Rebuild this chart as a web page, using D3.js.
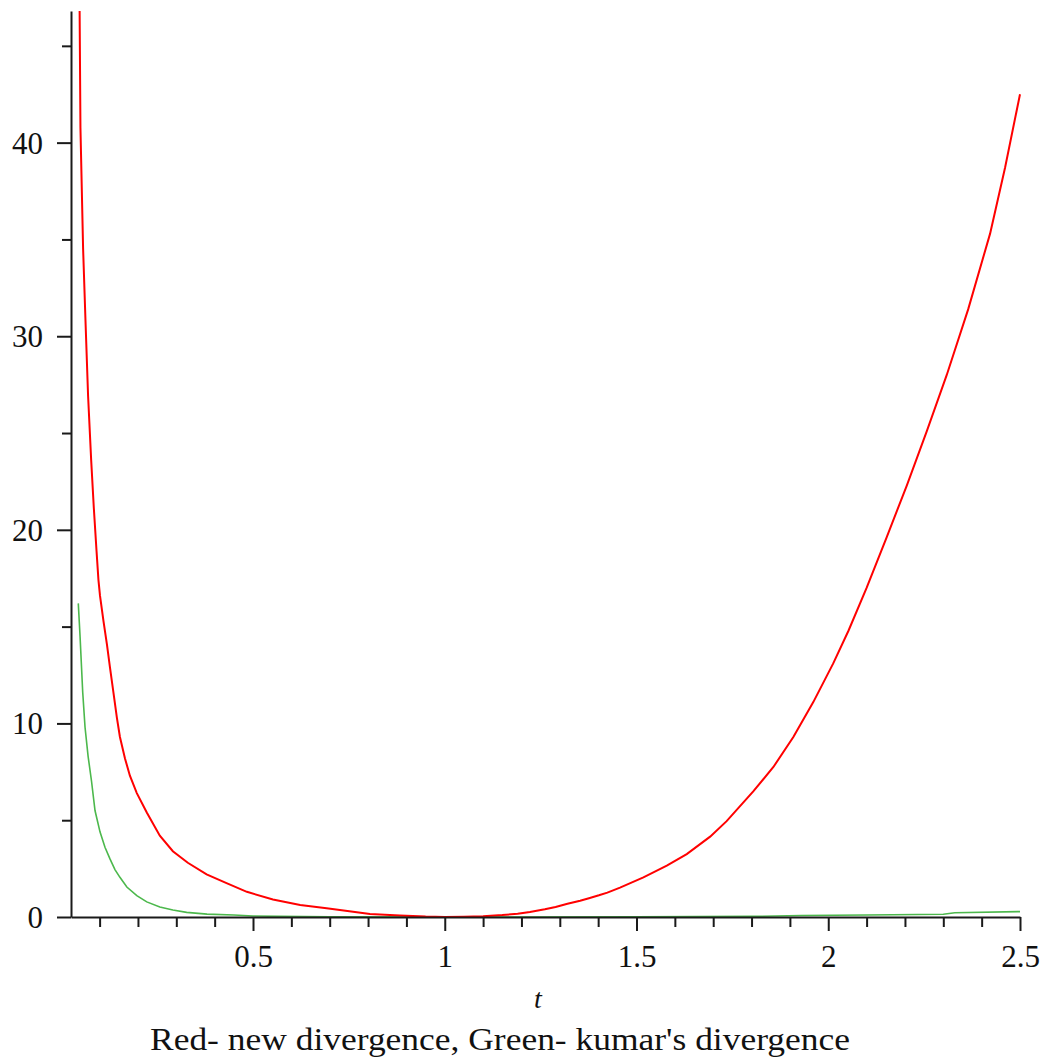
<!DOCTYPE html>
<html>
<head>
<meta charset="utf-8">
<script src="https://cdn.jsdelivr.net/npm/d3@7"></script>
<style>
  body { margin: 0; background: #fff; }
  svg text { font-family: "Liberation Serif", "DejaVu Serif", serif; fill: #111; }
</style>
</head>
<body>
<svg id="chart" width="1048" height="1062"></svg>
<script>
// values
const redT = [0.045, 0.050, 0.057, 0.063, 0.070, 0.078, 0.085, 0.092, 0.097, 0.101, 0.110, 0.119, 0.127, 0.136,
  0.145, 0.153, 0.166, 0.179, 0.197, 0.223, 0.257, 0.291, 0.330, 0.379, 0.431, 0.484, 0.552, 0.623, 0.692,
  0.761, 0.805, 0.883, 0.95, 1.0, 1.05, 1.10, 1.15, 1.19, 1.222, 1.261, 1.289, 1.320, 1.353, 1.376, 1.402, 1.424,
  1.457, 1.518, 1.579, 1.631, 1.692, 1.735, 1.805, 1.857, 1.909, 1.961, 2.013, 2.053, 2.100, 2.152, 2.205,
  2.257, 2.309, 2.365, 2.422, 2.461, 2.5];
const redV = [55, 40.8, 34.5, 30.9, 26.9, 23.6, 21.1, 18.9, 17.4, 16.6, 15.3, 14.1, 12.9, 11.6,
  10.3, 9.3, 8.2, 7.3, 6.4, 5.4, 4.2, 3.4, 2.8, 2.2, 1.75, 1.3, 0.9, 0.62, 0.45,
  0.27, 0.15, 0.08, 0.02, 0, 0.01, 0.04, 0.1, 0.17, 0.26, 0.4, 0.52, 0.68, 0.84, 0.97, 1.12, 1.26,
  1.52, 2.05, 2.65, 3.25, 4.15, 4.95, 6.5, 7.75, 9.3, 11.1, 13.1, 14.8, 17.0, 19.6, 22.3,
  25.1, 28.0, 31.4, 35.3, 38.7, 42.5];

const greenT = [0.0444, 0.049, 0.056, 0.062, 0.070, 0.079, 0.088, 0.101, 0.114, 0.127, 0.140, 0.153, 0.171,
  0.197, 0.223, 0.257, 0.291, 0.327, 0.38, 0.45, 0.5, 0.7, 1.0, 1.5, 1.8, 1.93, 2.1, 2.3, 2.33, 2.5];
const greenV = [16.2, 14.5, 11.6, 9.8, 8.3, 7.0, 5.5, 4.4, 3.6, 3.0, 2.45, 2.05, 1.55,
  1.1, 0.78, 0.52, 0.36, 0.24, 0.15, 0.1, 0.05, 0.01, 0, 0.01, 0.03, 0.08, 0.1, 0.14, 0.22, 0.28];

const xMajor = [0.5, 1, 1.5, 2, 2.5];
const xMinor = [0.1, 0.2, 0.3, 0.4, 0.6, 0.7, 0.8, 0.9, 1.1, 1.2, 1.3, 1.4, 1.6, 1.7, 1.8, 1.9, 2.1, 2.2, 2.3, 2.4];
const yMajor = [0, 10, 20, 30, 40];
const yMinor = [5, 15, 25, 35, 45];

const xTitle = "t";
const caption = "Red- new divergence, Green- kumar's divergence";

const svg = d3.select('#chart');

const x = d3.scaleLinear().domain([0.0254, 2.5]).range([71, 1020]);
const y = d3.scaleLinear().domain([0, 46.8]).range([917, 11]);

svg.append('clipPath').attr('id', 'plotclip')
  .append('rect')
  .attr('x', x.range()[0]).attr('y', y.range()[1])
  .attr('width', x.range()[1] - x.range()[0] + 4)
  .attr('height', y.range()[0] - y.range()[1]);

const line = d3.line().x(d => x(d[0])).y(d => y(d[1]));

const curves = svg.append('g').attr('clip-path', 'url(#plotclip)');

curves.append('path')
  .datum(greenT.map((t, i) => [t, greenV[i]]))
  .attr('d', line)
  .attr('fill', 'none')
  .attr('stroke', '#4cb84c')
  .attr('stroke-width', 1.6);

curves.append('path')
  .datum(redT.map((t, i) => [t, redV[i]]))
  .attr('d', line)
  .attr('fill', 'none')
  .attr('stroke', '#ff0000')
  .attr('stroke-width', 2);

// axes
const axisColour = '#1a1a1a';

const gx = svg.append('g').attr('transform', `translate(0,${y(0)})`);
gx.call(d3.axisBottom(x).tickValues(xMajor).tickSize(14).tickSizeOuter(0).tickFormat(d => String(d)));
gx.append('g').call(d3.axisBottom(x).tickValues(xMinor).tickSize(10).tickFormat(''))
  .select('.domain').remove();

const gy = svg.append('g').attr('transform', `translate(${x.range()[0]},0)`);
gy.call(d3.axisLeft(y).tickValues(yMajor).tickSize(14).tickSizeOuter(0).tickFormat(d => String(d)));
gy.append('g').call(d3.axisLeft(y).tickValues(yMinor).tickSize(9).tickFormat(''))
  .select('.domain').remove();

svg.selectAll('.domain, .tick line')
  .attr('stroke', axisColour)
  .attr('stroke-width', 2);

gx.selectAll('.tick text')
  .attr('y', 50).attr('dy', null)
  .style('font-size', '31px')
  .style('font-family', '"Liberation Serif", serif')
  .attr('fill', '#111');

gy.selectAll('.tick text')
  .attr('x', -28).attr('dy', '0.34em')
  .style('font-size', '31px')
  .style('font-family', '"Liberation Serif", serif')
  .attr('fill', '#111');

svg.append('text')
  .attr('x', 538).attr('y', 1008)
  .attr('text-anchor', 'middle')
  .style('font-size', '28px')
  .style('font-style', 'italic')
  .text(xTitle);

svg.append('text')
  .attr('x', 150).attr('y', 1050)
  .attr('textLength', 700)
  .attr('lengthAdjust', 'spacingAndGlyphs')
  .style('font-size', '31px')
  .text(caption);
</script>
</body>
</html>
